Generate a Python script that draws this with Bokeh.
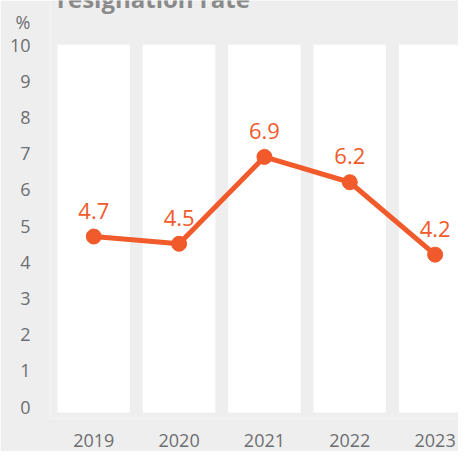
from bokeh.plotting import figure
from bokeh.models import ColumnDataSource, FixedTicker, Range1d, Label
from bokeh.core.properties import value
from bokeh.embed import file_html
from bokeh.resources import INLINE

years = ["2019", "2020", "2021", "2022", "2023"]
rates = [4.7, 4.5, 6.9, 6.2, 4.2]
rate_labels = ["4.7", "4.5", "6.9", "6.2", "4.2"]
y_ticks = [0, 1, 2, 3, 4, 5, 6, 7, 8, 9, 10]
unit_label = "%"
title_text = "resignation rate"

BG = "#eeeeee"
ORANGE = "#f15a2b"
GRAY = "#6d6e71"
FONT = "Open Sans"

xs = list(range(len(years)))
src = ColumnDataSource(dict(x=xs, y=rates, lab=rate_labels))

p = figure(width=458, height=451, output_backend="svg", toolbar_location=None,
           x_range=Range1d(-0.507, 4.274), y_range=Range1d(-0.326, 11.22),
           min_border_left=50, min_border_right=0, min_border_top=0, min_border_bottom=33)
p.background_fill_color = BG
p.border_fill_color = BG
p.outline_line_color = None
p.grid.visible = False

# white column bands
p.vbar(x=xs, width=0.85, bottom=-0.16, top=10, fill_color="white", line_color=None)

p.line("x", "y", source=src, line_color=ORANGE, line_width=5)
p.scatter("x", "y", source=src, size=15, fill_color=ORANGE, line_color=ORANGE)
p.text("x", "y", text="lab", source=src, y_offset=-26, text_align="center",
       text_baseline="middle", text_color=ORANGE, text_font=value(FONT),
       text_font_size="22px")

# axes
unit_pos = 10.62
yt = y_ticks + [unit_pos]
p.yaxis.ticker = FixedTicker(ticks=yt)
p.yaxis.major_label_overrides = {unit_pos: unit_label}
p.xaxis.ticker = FixedTicker(ticks=xs)
p.xaxis.major_label_overrides = {i: y for i, y in enumerate(years)}
for ax in (p.xaxis[0], p.yaxis[0]):
    ax.axis_line_color = None
    ax.major_tick_line_color = None
    ax.minor_tick_line_color = None
    ax.major_tick_out = 0
    ax.major_tick_in = 0
    ax.major_label_text_color = GRAY
    ax.major_label_text_font = FONT
    ax.major_label_text_font_size = "18px"
p.yaxis.major_label_standoff = 20
p.xaxis.major_label_standoff = 15

title = Label(x=-0.43, y=11.28, text=title_text, text_font=FONT, text_font_size="24px",
              text_font_style="bold", text_color="#8a8a8a", text_baseline="alphabetic")
p.add_layout(title)

open("out.html", "w").write(file_html(p, INLINE))
